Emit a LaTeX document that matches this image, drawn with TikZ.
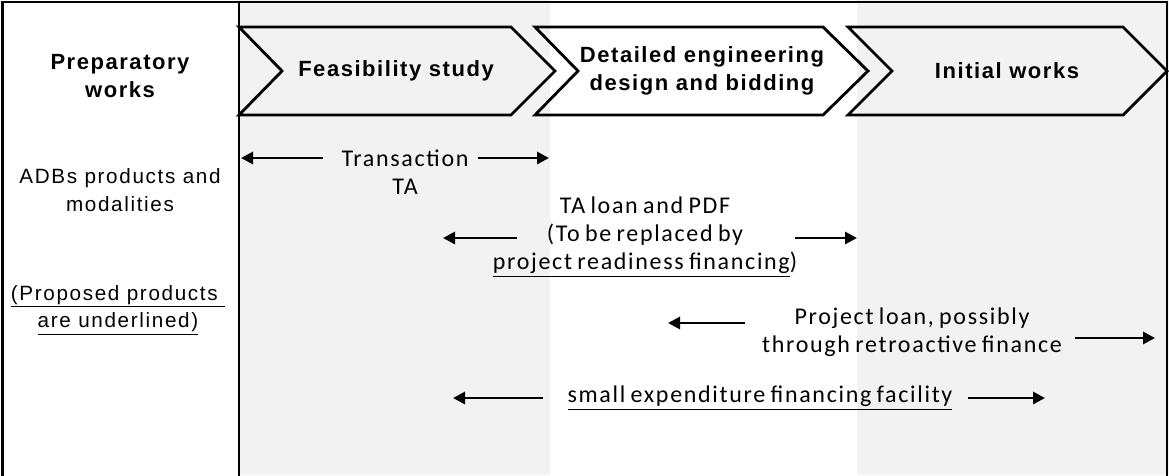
\documentclass[tikz,border=0pt]{standalone}
\usepackage{fontspec}
\usetikzlibrary{arrows.meta}
\setmainfont{Liberation Sans}
\newfontfamily\headfont[LetterSpace=7]{Liberation Sans}
\newfontfamily\sidefont[LetterSpace=8]{Liberation Sans}
\newfontfamily\bodyfont[LetterSpace=7,WordSpace=0.75]{Carlito}
\definecolor{bandgrey}{HTML}{F2F2F2}
\tikzset{
  stage/.style={draw=black, line width=2.1pt, line join=miter},
  head/.style={font=\headfont\bfseries\fontsize{16.5}{21}\selectfont, align=center, inner sep=0pt},
  side/.style={font=\sidefont\fontsize{15.5}{20.5}\selectfont, align=center, inner sep=0pt},
  body/.style={font=\bodyfont\fontsize{18}{21}\selectfont, align=center, inner sep=0pt},
  span/.style={line width=2.1pt, -{Triangle[length=9pt,width=9pt]}},
  frame/.style={line width=2.1pt}
}
\begin{document}
\begin{tikzpicture}[x=0.75pt,y=-0.75pt]
\useasboundingbox (0,0) rectangle (1169,475);
% shaded phase columns
\fill[bandgrey] (239,0) rectangle (550,475);
\fill[bandgrey] (857,0) rectangle (1169,475);
% outer frame and divider
\draw[frame] (2.5,480) -- (2.5,2) -- (1167,2) -- (1167,480);
\draw[frame] (239,2) -- (239,480);
% phase chevrons
\draw[stage] (239,27) -- (511,27) -- (555,71) -- (511,115) -- (239,115) -- (282,71) -- cycle;
\draw[stage] (535,27) -- (823,27) -- (868,71) -- (823,115) -- (535,115) -- (578,71) -- cycle;
\draw[stage] (848,27) -- (1123,27) -- (1167,71) -- (1123,115) -- (848,115) -- (892,71) -- cycle;
% headings
\node[head] (prep) at (120,76) {Preparatory\\works};
\node[head] (feas) at (396,71) {Feasibility study};
\node[head] (ded) at (702,71) {Detailed engineering\\design and bidding};
\node[head] (init) at (1007,71) {Initial works};
% left column notes
\node[side] (adb) at (120,190) {ADBs products and\\modalities};
\node[side] (prop) at (118,310) {\underline{(Proposed products\ }\\\underline{are underlined)}};
% products
\node[body] (tta) at (405,172) {Transaction\\TA};
\node[body] (tal) at (645,237) {TA loan and PDF\\(To be replaced by\\\underline{project readiness financing})};
\node[body] (pl) at (912,332) {Project loan, possibly\\through retroactive finance};
\node[body] (sef) at (760,398) {\underline{small expenditure financing facility}};
% span arrows
\coordinate (tta-l0) at (323,158); \coordinate (tta-l1) at (241,158);
\coordinate (tta-r0) at (478,158); \coordinate (tta-r1) at (549,158);
\coordinate (tal-l0) at (517,238); \coordinate (tal-l1) at (443,238);
\coordinate (tal-r0) at (795,238); \coordinate (tal-r1) at (857,238);
\coordinate (pl-l0) at (745,323); \coordinate (pl-l1) at (668,323);
\coordinate (pl-r0) at (1075,338); \coordinate (pl-r1) at (1155,338);
\coordinate (sef-l0) at (543,398); \coordinate (sef-l1) at (453,398);
\coordinate (sef-r0) at (968,398); \coordinate (sef-r1) at (1045,398);
\draw[span] (tta-l0) -- (tta-l1);
\draw[span] (tta-r0) -- (tta-r1);
\draw[span] (tal-l0) -- (tal-l1);
\draw[span] (tal-r0) -- (tal-r1);
\draw[span] (pl-l0) -- (pl-l1);
\draw[span] (pl-r0) -- (pl-r1);
\draw[span] (sef-l0) -- (sef-l1);
\draw[span] (sef-r0) -- (sef-r1);
\end{tikzpicture}
\end{document}
